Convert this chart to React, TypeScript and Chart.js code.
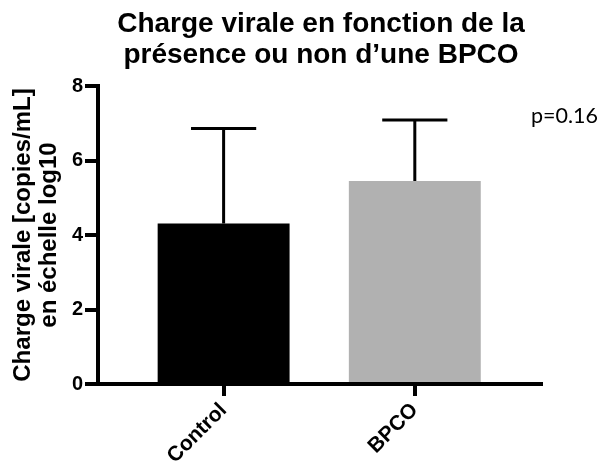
import React, { useEffect, useRef } from 'react';
import { Chart, registerables } from 'chart.js';

Chart.register(...registerables);

const categories = ['Control', 'BPCO'];
const means = [4.31, 5.45];
const errorTops = [6.86, 7.09];
const barColors = ['#000000', '#b1b1b1'];
const titleLines = ['Charge virale en fonction de la', 'présence ou non d\u2019une BPCO'];
const yTitleLines = ['Charge virale [copies/mL]', 'en échelle log10'];
const pValueLabel = 'p=0.16';

const SANS = '"Liberation Sans", Arial, sans-serif';

export default function App() {
  const ref = useRef<HTMLCanvasElement>(null);

  useEffect(() => {
    if (!ref.current) return;
    const overlay = {
      id: 'overlay',
      afterDatasetsDraw(chart: any) {
        const ctx = chart.ctx;
        const meta = chart.getDatasetMeta(0);
        const ys = chart.scales.y;
        ctx.save();
        ctx.strokeStyle = '#000';
        ctx.lineWidth = 3;
        ctx.lineCap = 'butt';
        meta.data.forEach((el: any, i: number) => {
          const x = el.x;
          const top = ys.getPixelForValue(errorTops[i]);
          const half = el.width * 0.247;
          ctx.beginPath();
          ctx.moveTo(x, el.y);
          ctx.lineTo(x, top);
          ctx.moveTo(x - half, top);
          ctx.lineTo(x + half, top);
          ctx.stroke();
        });
        ctx.restore();
      },
      afterDraw(chart: any) {
        const ctx = chart.ctx;
        const a = chart.chartArea;
        ctx.save();
        ctx.fillStyle = '#000';
        ctx.font = `bold 28px ${SANS}`;
        ctx.textAlign = 'center';
        ctx.textBaseline = 'alphabetic';
        const cx = (a.left + a.right) / 2 + 1.5;
        ctx.fillText(titleLines[0], cx, a.top - 54);
        ctx.fillText(titleLines[1], cx, a.top - 23);
        ctx.font = '21.5px Lato, "Open Sans", sans-serif';
        ctx.textAlign = 'right';
        ctx.fillText(pValueLabel, chart.width - 1, a.top + 37);
        ctx.restore();
      },
    };

    const chart = new Chart(ref.current, {
      type: 'bar',
      data: {
        datasets: [
          {
            data: categories.map((c, i) => ({ x: i, y: means[i] })),
            backgroundColor: barColors,
            borderWidth: 0,
            barPercentage: 0.69,
            categoryPercentage: 1,
          },
        ],
      },
      options: {
        responsive: false,
        animation: false,
        layout: { padding: { top: 78, right: 58, left: 0, bottom: 0 } },
        plugins: {
          legend: { display: false },
          tooltip: { enabled: false },
          title: { display: false },
        },
        scales: {
          x: {
            type: 'linear',
            min: -0.657,
            max: 1.66,
            offset: false,
            grid: {
              display: true,
              offset: false,
              drawOnChartArea: false,
              drawTicks: true,
              tickLength: 12,
              lineWidth: 4,
              color: '#000',
            },
            border: { display: true, width: 4, color: '#000' },
            afterBuildTicks: (s: any) => {
              s.ticks = categories.map((_, i) => ({ value: i }));
            },
            ticks: {
              callback: (v: any) => categories[v as number] ?? '',
              minRotation: 45,
              maxRotation: 45,
              autoSkip: false,
              color: '#000',
              padding: 2,
              font: { family: SANS, size: 21, weight: 'bold' },
            },
            afterFit: (s: any) => {
              s.height = 77;
            },
          },
          y: {
            min: 0,
            max: 8,
            grid: {
              display: true,
              drawOnChartArea: false,
              drawTicks: true,
              tickLength: 13,
              lineWidth: 4,
              color: '#000',
            },
            border: { display: true, width: 4, color: '#000' },
            ticks: {
              stepSize: 2,
              color: '#000',
              padding: 2,
              font: { family: SANS, size: 20, weight: 'bold' },
            },
            title: {
              display: true,
              text: yTitleLines,
              color: '#000',
              padding: { top: 2, bottom: 0 },
              font: { family: SANS, size: 24, weight: 'bold', lineHeight: 1.1 },
            },
            afterFit: (s: any) => {
              s.width = 90;
            },
          },
        },
      },
      plugins: [overlay],
    } as any);

    return () => chart.destroy();
  }, []);

  return <canvas ref={ref} width={591} height={453} style={{ display: 'block' }} />;
}
